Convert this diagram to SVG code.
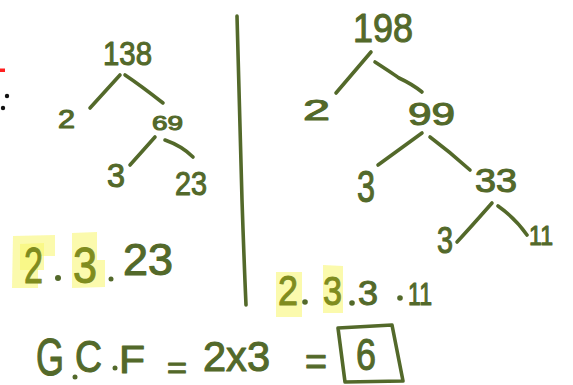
<svg xmlns="http://www.w3.org/2000/svg" width="573" height="385" viewBox="0 0 573 385">
<style>
.t{font-family:"Liberation Sans","DejaVu Sans",sans-serif;fill:#53692a;stroke:#53692a;stroke-width:1.1;stroke-linejoin:round}
.h{fill:#7f8c1e;stroke:#7f8c1e}
.c{fill:none;stroke:#53692a;stroke-width:3.6;stroke-linecap:round;stroke-linejoin:round}
.hl{fill:#f7f56a;opacity:0.55}
.d{fill:#53692a}
</style>
<rect width="573" height="385" fill="#ffffff"/>
<g id="margin">
<rect x="0" y="68.5" width="5" height="3.5" fill="#ff2020"/>
<circle cx="7" cy="96" r="2.2" fill="#111"/>
<circle cx="3" cy="108" r="2.2" fill="#111"/>
</g>
<g id="connectors">
<path class="c" d="M120,75 L90,108"/>
<path class="c" d="M125,75 Q140,85 163,103"/>
<path class="c" d="M155,137 L130,165"/>
<path class="c" d="M165,140 Q182,146 193,157"/>
<path class="c" d="M371,52 L336,93"/>
<path class="c" d="M375,62 Q395,75 399,78 Q412,84 422,92"/>
<path class="c" d="M422,133 L378,165"/>
<path class="c" d="M430,137 Q450,152 470,170"/>
<path class="c" d="M492,203 Q470,228 457,242"/>
<path class="c" d="M498,206 Q515,218 527,235"/>
<path class="c" d="M237,16 Q240,120 242,200 Q244,260 246,305"/>
</g>
<g id="n138"><text class="t" x="103" y="65" font-size="34" textLength="49" lengthAdjust="spacingAndGlyphs">138</text></g>
<g id="n138-2"><text class="t" x="58" y="128" font-size="25" textLength="17" lengthAdjust="spacingAndGlyphs">2</text></g>
<g id="n69"><text class="t" x="152" y="130" font-size="21" textLength="31" lengthAdjust="spacingAndGlyphs">69</text></g>
<g id="n69-3"><text class="t" x="107" y="187" font-size="34" textLength="18" lengthAdjust="spacingAndGlyphs">3</text></g>
<g id="n23"><text class="t" x="175" y="195" font-size="34" textLength="32" lengthAdjust="spacingAndGlyphs">23</text></g>
<g id="n198"><text class="t" x="353" y="42" font-size="40" textLength="60" lengthAdjust="spacingAndGlyphs">198</text></g>
<g id="n198-2"><text class="t" x="303" y="120" font-size="30" textLength="27" lengthAdjust="spacingAndGlyphs">2</text></g>
<g id="n99"><text class="t" x="408" y="125" font-size="32" textLength="47" lengthAdjust="spacingAndGlyphs">99</text></g>
<g id="n99-3"><text class="t" x="357" y="202" font-size="44" textLength="18" lengthAdjust="spacingAndGlyphs">3</text></g>
<g id="n33"><text class="t" x="475" y="192" font-size="34" textLength="42" lengthAdjust="spacingAndGlyphs">33</text></g>
<g id="n33-3"><text class="t" x="437" y="253" font-size="36" textLength="16" lengthAdjust="spacingAndGlyphs">3</text></g>
<g id="n11"><text class="t" x="529" y="245" font-size="28" textLength="24" lengthAdjust="spacingAndGlyphs">11</text></g>
<g id="left-product">
<path class="hl" d="M13,236 L55,235 L55,256 L38,256 L38,288 L12,288 Z"/>
<path class="hl" d="M20,244 L44,243 L44,270 L20,270 Z"/>
<path class="hl" d="M72,233 L97,232 L97,260 L105,260 L105,287 L72,288 Z"/>
<text class="t h" x="24" y="283" font-size="50" textLength="19" lengthAdjust="spacingAndGlyphs">2</text>
<circle class="d" cx="58" cy="278" r="3"/>
<text class="t h" x="73" y="283" font-size="50" textLength="24" lengthAdjust="spacingAndGlyphs">3</text>
<circle class="d" cx="111" cy="279" r="2.5"/>
<text class="t" x="123" y="275" font-size="44" textLength="50" lengthAdjust="spacingAndGlyphs">23</text>
</g>
<g id="right-product">
<path class="hl" d="M276,272 L302,272 L302,317 L276,317 Z"/>
<path class="hl" d="M323,265 L343,266 L343,313 L323,313 Z"/>
<text class="t h" x="278" y="305" font-size="42" textLength="20" lengthAdjust="spacingAndGlyphs">2</text>
<circle class="d" cx="305" cy="302" r="2.8"/>
<text class="t h" x="323" y="305" font-size="40" textLength="19" lengthAdjust="spacingAndGlyphs">3</text>
<circle class="d" cx="352" cy="303" r="2.8"/>
<text class="t" x="358" y="305" font-size="35" textLength="20" lengthAdjust="spacingAndGlyphs">3</text>
<circle class="d" cx="400" cy="298" r="2.8"/>
<text class="t" x="408" y="305" font-size="32" textLength="24" lengthAdjust="spacingAndGlyphs">11</text>
</g>
<g id="gcf">
<text class="t" x="36" y="375" font-size="52" textLength="28" lengthAdjust="spacingAndGlyphs">G</text>
<circle class="d" cx="75" cy="377" r="2.5"/>
<text class="t" x="75" y="372" font-size="44" textLength="27" lengthAdjust="spacingAndGlyphs">C</text>
<circle class="d" cx="115" cy="368" r="2.5"/>
<text class="t" x="119" y="373" font-size="39" textLength="26" lengthAdjust="spacingAndGlyphs">F</text>
<text class="t" x="167" y="378" font-size="30" textLength="20" lengthAdjust="spacingAndGlyphs">=</text>
<text class="t" x="203" y="371" font-size="42" textLength="67" lengthAdjust="spacingAndGlyphs">2x3</text>
<text class="t" x="305" y="375" font-size="38" textLength="22" lengthAdjust="spacingAndGlyphs">=</text>
<path class="c" d="M338,328 L392,325 L403,381 L345,382 Z"/>
<text class="t" x="356" y="370" font-size="44" textLength="20" lengthAdjust="spacingAndGlyphs">6</text>
</g>
</svg>
